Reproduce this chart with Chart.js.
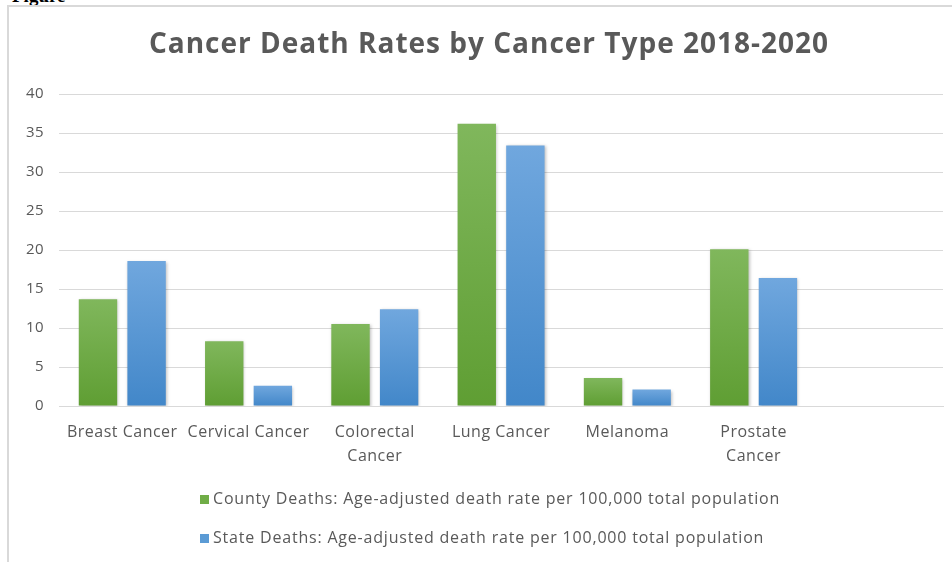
<!DOCTYPE html>
<html>
<head>
<meta charset="utf-8">
<script src="https://cdn.jsdelivr.net/npm/chart.js@4/dist/chart.umd.min.js"></script>
<style>
  html, body { margin: 0; padding: 0; background: #fff; }
  #wrap { position: relative; width: 952px; height: 562px; overflow: hidden; }
  #frame { position: absolute; left: 7px; top: 5px; width: 960px; height: 600px;
           border-left: 2px solid #d9d9d9; border-top: 2px solid #d9d9d9; box-sizing: border-box; }
  #fig { position: absolute; left: 12px; top: -15px; font: bold 19px "Liberation Serif", serif; color: #000; }
  #c { position: absolute; left: 0; top: 0; }
  #legend { position: absolute; left: 200px; top: 486px; font-family: "Open Sans", sans-serif;
            font-size: 16px; letter-spacing: 0.8px; color: #595959; }
  #legend .item { height: 39px; line-height: 24px; white-space: nowrap; }
  #legend .box { display: inline-block; width: 9px; height: 9px; margin-right: 4px; vertical-align: 0px; }
</style>
</head>
<body>
<div id="wrap">
  <div id="fig">Figure</div>
  <div id="frame"></div>
  <canvas id="c" width="952" height="562"></canvas>
  <div id="legend"></div>
</div>
<script>
const categories = ["Breast Cancer", "Cervical Cancer", ["Colorectal", "Cancer"], "Lung Cancer", "Melanoma", ["Prostate", "Cancer"], ""];
const countyDeaths = [13.7, 8.3, 10.5, 36.2, 3.6, 20.1, null];
const stateDeaths = [18.6, 2.6, 12.4, 33.4, 2.1, 16.4, null];
const yTicks = { min: 0, max: 40, step: 5 };
const seriesNames = [
  "County Deaths: Age-adjusted death rate per 100,000 total population",
  "State Deaths: Age-adjusted death rate per 100,000 total population"
];
const titleText = 'Cancer Death Rates by Cancer Type 2018-2020';
const seriesColors = ['#70ad47', '#5b9bd5'];

function barGradient(top, bottom, flat) {
  return function (ctx) {
    const chart = ctx.chart;
    if (!chart.chartArea || !chart.scales.y || ctx.raw == null) return flat;
    const y0 = chart.scales.y.getPixelForValue(ctx.raw);
    const y1 = chart.scales.y.getPixelForValue(0);
    if (!isFinite(y0) || !isFinite(y1) || y0 === y1) return flat;
    const g = chart.ctx.createLinearGradient(0, y0, 0, y1);
    g.addColorStop(0, top);
    g.addColorStop(1, bottom);
    return g;
  };
}

const spacingPlugin = {
  id: 'textSpacing',
  beforeLayout(chart) { chart.ctx.letterSpacing = '0.5px'; },
  beforeDraw(chart) { chart.ctx.letterSpacing = '0.5px'; }
};

const titlePlugin = {
  id: 'customTitle',
  afterDraw(chart) {
    const c = chart.ctx;
    c.save();
    c.letterSpacing = '1px';
    c.font = 'bold 28px "Open Sans"';
    c.fillStyle = '#595959';
    c.textAlign = 'center';
    c.textBaseline = 'middle';
    c.fillText(titleText, 489, 45);
    c.restore();
  }
};

const shadowPlugin = {
  id: 'barShadow',
  beforeDatasetsDraw(chart) {
    const c = chart.ctx;
    c.save();
    c.shadowColor = 'rgba(0,0,0,0.25)';
    c.shadowBlur = 3;
    c.shadowOffsetX = 1;
    c.shadowOffsetY = 1;
  },
  afterDatasetsDraw(chart) { chart.ctx.restore(); }
};

const chart = new Chart(document.getElementById('c'), {
  type: 'bar',
  data: {
    labels: categories,
    datasets: [
      { label: seriesNames[0], data: countyDeaths,
        backgroundColor: barGradient('#80b75c', '#5f9e33', seriesColors[0]), borderWidth: 0,
        categoryPercentage: 0.77, barPercentage: 0.79 },
      { label: seriesNames[1], data: stateDeaths,
        backgroundColor: barGradient('#70a7de', '#4287c9', seriesColors[1]), borderWidth: 0,
        categoryPercentage: 0.77, barPercentage: 0.79 }
    ]
  },
  options: {
    responsive: false,
    animation: false,
    devicePixelRatio: 1,
    layout: { padding: { left: 11, right: 9, top: 94, bottom: 80 } },
    plugins: {
      title: { display: false },
      legend: { display: false },
      tooltip: { enabled: false }
    },
    scales: {
      x: {
        grid: { display: false, drawTicks: false },
        border: { color: '#d9d9d9', width: 1 },
        ticks: { color: '#595959', font: { family: 'Open Sans', size: 16, lineHeight: 1.5 },
                 maxRotation: 0, autoSkip: false, padding: 14 }
      },
      y: {
        min: yTicks.min, max: yTicks.max,
        grid: { color: '#d9d9d9', drawTicks: false },
        border: { display: false },
        ticks: { stepSize: yTicks.step, color: '#595959', font: { family: 'Open Sans', size: 15 }, padding: 15 }
      }
    }
  },
  plugins: [spacingPlugin, titlePlugin, shadowPlugin]
});

// HTML legend built from the chart's datasets
const legendEl = document.getElementById('legend');
chart.data.datasets.forEach((ds, i) => {
  const row = document.createElement('div');
  row.className = 'item';
  const box = document.createElement('span');
  box.className = 'box';
  box.style.background = seriesColors[i];
  row.appendChild(box);
  row.appendChild(document.createTextNode(ds.label));
  legendEl.appendChild(row);
});
</script>
</body>
</html>
